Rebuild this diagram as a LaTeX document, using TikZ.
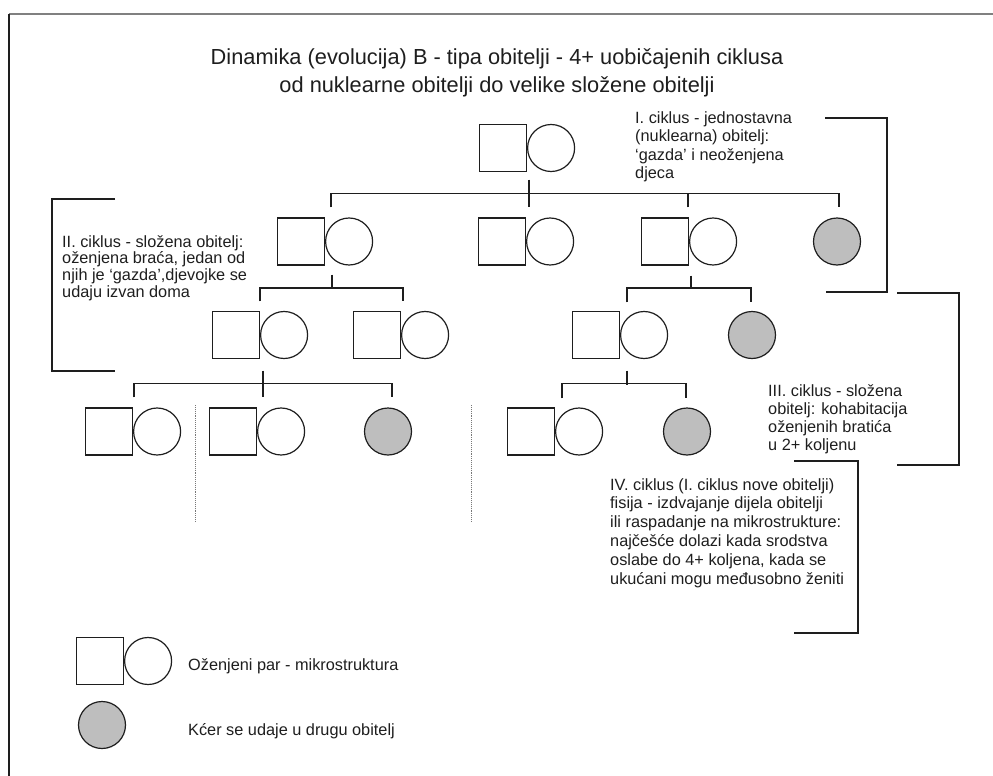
\documentclass[tikz,border=0pt]{standalone}
\usepackage{fontspec}
\setmainfont{Liberation Sans}
\usetikzlibrary{calc}
\definecolor{outgray}{RGB}{190,190,190}
\definecolor{ink}{RGB}{30,30,30}
\begin{document}
\begin{tikzpicture}[x=1pt,y=-1pt,
 male/.style={draw=ink, rectangle, minimum size=47pt, inner sep=0pt, anchor=east, line width=1.2pt},
 fem/.style={draw=ink, circle, minimum size=47pt, inner sep=0pt, anchor=west, line width=1.2pt},
 daughter/.style={draw=ink, circle, fill=outgray, minimum size=47pt, inner sep=0pt, line width=1.2pt},
 link/.style={draw=ink, line width=1.2pt},
 bracket/.style={draw=ink, line width=1.2pt},
 sep/.style={draw=ink!60, line width=0.9pt, densely dotted},
 body/.style={anchor=north west, inner sep=0pt, align=left, text=ink},
 legend/.style={anchor=base west, inner sep=0pt, text=ink, font=\fontsize{16.3}{18.3}\selectfont},
 title/.style={anchor=north, inner sep=0pt, align=center, text=ink, font=\fontsize{21.8}{27.6}\selectfont},
]
\useasboundingbox (0,0) rectangle (993,776);
% frame
\draw[gray, line width=1.5pt] (9,14) -- (993,14);
\draw[ink, line width=1.5pt] (9,14) -- (9,776);

% title
\node[title] (ttl) at (497,48.5) {Dinamika (evolucija) B - tipa obitelji - 4+ uobičajenih ciklusa\\od nuklearne obitelji do velike složene obitelji};

% generation 0
\node[male] (m0) at (527,148) {}; \node[fem] (f0) at (m0.east) {};
% generation 1
\node[male] (m1) at (325,241.5) {}; \node[fem] (f1) at (m1.east) {};
\node[male] (m2) at (526,241.5) {}; \node[fem] (f2) at (m2.east) {};
\node[male] (m3) at (689,241.5) {}; \node[fem] (f3) at (m3.east) {};
\node[daughter] (g1) at (837,241.5) {};
% generation 2
\node[male] (m5) at (260,335) {}; \node[fem] (f5) at (m5.east) {};
\node[male] (m6) at (401,335) {}; \node[fem] (f6) at (m6.east) {};
\node[male] (m4) at (620,335) {}; \node[fem] (f4) at (m4.east) {};
\node[daughter] (g2) at (752,335) {};
% generation 3
\node[male] (m7) at (133,431.5) {}; \node[fem] (f7) at (m7.east) {};
\node[male] (m8) at (257,431.5) {}; \node[fem] (f8) at (m8.east) {};
\node[daughter] (g3) at (388,431.5) {};
\node[male] (m9) at (555,431.5) {}; \node[fem] (f9) at (m9.east) {};
\node[daughter] (g4) at (687,431.5) {};

% family of m0
\draw[link] ($(m0.south east)+(2,7.5)$) -- ($(m2.north east)+(3,-10)$);
\draw[link] ($(m1.north east)+(6,-10)$) |- ($(g1.north)+(2,-24)$) -- ($(g1.north)+(2,-10)$);
\draw[link] ($(m3.north east)+(-1,-10)$) -- ($(m3.north east)+(-1,-24)$);
% family of m1
\draw[link] ($(m1.south east)+(7,9)$) -- ($(m1.south east)+(7,23)$);
\draw[link] ($(m5.north east)+(0,-9.5)$) |- ($(m6.north east)+(2,-23)$) -- ($(m6.north east)+(2,-9.5)$);
% family of m3
\draw[link] ($(m3.south east)+(2,10)$) -- ($(m3.south east)+(2,23)$);
\draw[link] ($(m4.north east)+(7,-8.5)$) |- ($(g2.north)+(-1,-23)$) -- ($(g2.north)+(-1,-8.5)$);
% family of m5
\draw[link] ($(m5.south east)+(3,11.5)$) -- ($(m8.north east)+(6,-10)$);
\draw[link] ($(m7.north east)+(1,-10)$) |- ($(g3.north)+(4,-24)$) -- ($(g3.north)+(4,-10)$);
% family of m4
\draw[link] ($(m4.south east)+(7,11.5)$) -- ($(m4.south east)+(7,25.5)$);
\draw[link] ($(m9.north east)+(7,-9)$) |- ($(g4.north)+(-1,-24)$) -- ($(g4.north)+(-1,-9)$);

% dotted separators
\draw[sep] (195,405) -- (195,521);
\draw[sep] (471,405) -- (471,521);

% brackets
\draw[bracket] (825,118) -- (887,118) -- (887,292) -- (826,292);
\draw[bracket] (115,199) -- (52,199) -- (52,371) -- (115,371);
\draw[bracket] (897,293) -- (959,293) -- (959,465) -- (897,465);
\draw[bracket] (794,461) -- (858,461) -- (858,633) -- (794,633);

% texts
\node[body, font=\fontsize{16.3}{18.2}\selectfont] (c1) at (635,111.7)
 {I. ciklus - jednostavna\\(nuklearna) obitelj:\\‘gazda’ i neoženjena\\djeca};
\node[body, font=\fontsize{16.3}{16.8}\selectfont] (c2) at (62,235)
 {II. ciklus - složena obitelj:\\oženjena braća, jedan od\\njih je ‘gazda’,djevojke se\\udaju izvan doma};
\node[body, font=\fontsize{16.3}{18.3}\selectfont] (c3) at (768,384)
 {III. ciklus - složena\\obitelj: kohabitacija\\oženjenih bratića\\u 2+ koljenu};
\node[body, font=\fontsize{16.3}{18.9}\selectfont] (c4) at (610,478)
 {IV. ciklus (I. ciklus nove obitelji)\\fisija - izdvajanje dijela obitelji\\ili raspadanje na mikrostrukture:\\najčešće dolazi kada srodstva\\oslabe do 4+ koljena, kada se\\ukućani mogu međusobno ženiti};

% legend
\node[male] (lm) at (124,661) {}; \node[fem] (lf) at (lm.east) {};
\node[daughter] (lg) at (102,725) {};
\node[legend] (lt1) at (188,670) {Oženjeni par - mikrostruktura};
\node[legend] (lt2) at (188,735) {Kćer se udaje u drugu obitelj};
\end{tikzpicture}
\end{document}
